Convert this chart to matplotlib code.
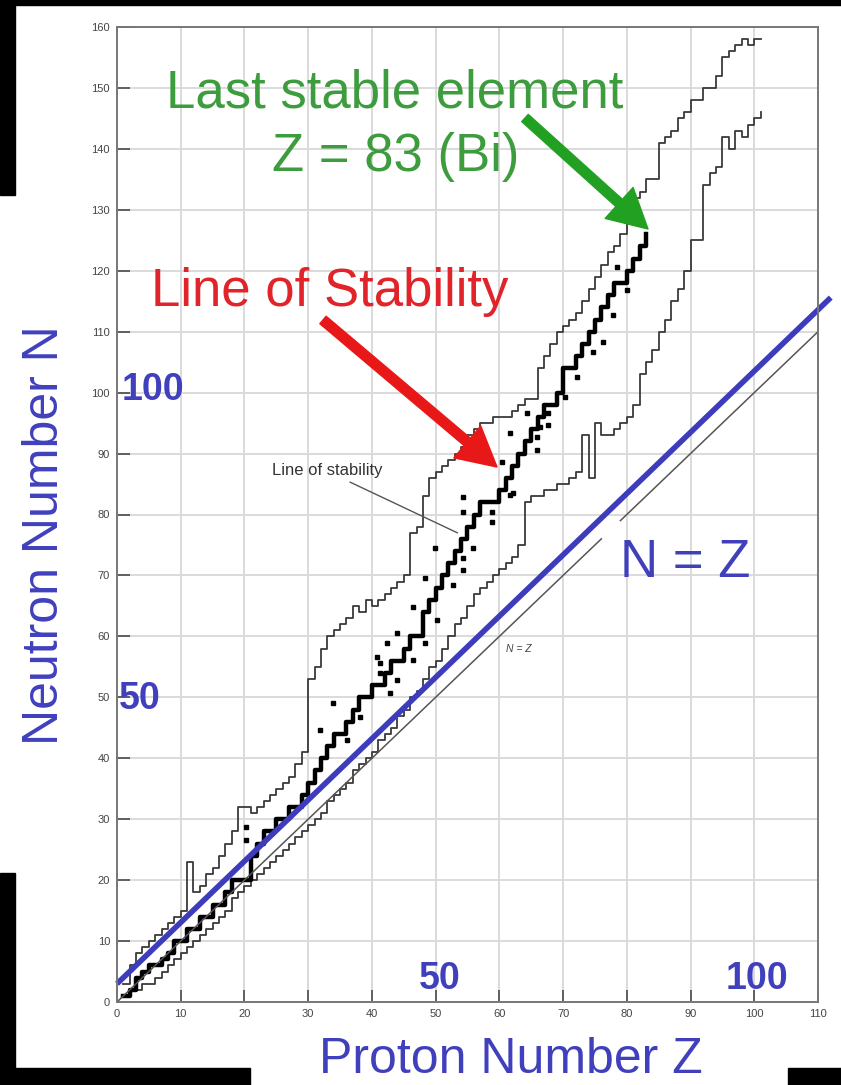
import matplotlib
matplotlib.use("Agg")
import matplotlib.pyplot as plt
from matplotlib.patches import Rectangle

plt.rcParams['font.family'] = ['Liberation Sans', 'DejaVu Sans']

W, H = 841, 1085

# neutron-rich edge of known nuclides (Z = 1..101)
upper_z = list(range(1, 102))
upper_n = [3, 6, 8, 9, 10, 11, 12, 13, 14, 15,
           23, 18, 19, 21, 22, 24, 26, 28, 32, 32,
           31, 32, 33, 34, 35, 36, 37, 39, 41, 53,
           55, 58, 60, 61, 62, 63, 65, 64, 66, 65,
           66, 67, 68, 69, 70, 77, 78, 83, 86, 87,
           88, 89, 90, 91, 93, 94, 95, 95, 96, 96,
           96, 97, 98, 99, 99, 104, 106, 108, 110, 111,
           112, 113, 115, 117, 119, 121, 123, 124, 126, 128,
           132, 133, 135, 135, 141, 142, 143, 145, 146, 148,
           148, 150, 150, 152, 155, 156, 157, 158, 157, 158, 158]

# proton-rich edge of known nuclides (Z = 2..101)
lower_z = list(range(2, 102))
lower_n = [2, 2, 3, 3, 4, 5, 6, 7, 8,
           9, 10, 11, 12, 13, 14, 15, 17, 18, 19,
           20, 21, 22, 23, 24, 25, 26, 27, 28, 29,
           30, 31, 33, 34, 35, 36, 38, 39, 40, 41,
           43, 44, 45, 47, 48, 50, 51, 53, 55, 56,
           58, 60, 62, 63, 65, 67, 68, 69, 70, 71,
           72, 73, 75, 82, 83, 83, 84, 84, 85, 85,
           86, 87, 93, 86, 95, 93, 93, 94, 95, 96,
           98, 103, 105, 107, 110, 112, 115, 117, 120, 125,
           125, 134, 136, 137, 142, 140, 143, 142, 144, 145, 146]

# stable nuclides, main valley (Z = 1..83)
stable_z = list(range(1, 84))
stable_n = [1, 2, 4, 5, 6, 6, 7, 8, 10, 10,
            12, 12, 14, 14, 16, 16, 18, 20, 20, 20,
            24, 26, 28, 28, 30, 30, 32, 32, 34, 36,
            38, 40, 42, 44, 44, 46, 48, 50, 50, 52,
            52, 54, 56, 56, 58, 60, 60, 64, 66, 68,
            70, 72, 74, 76, 78, 80, 82, 82, 82, 84,
            86, 88, 90, 92, 94, 96, 98, 98, 100, 104,
            104, 106, 108, 110, 112, 114, 116, 118, 118, 120,
            122, 124, 126]

# isolated stable isotopes off the main valley
dot_z = [54.3, 54.3, 58.8, 58.8, 49.9, 54.3, 54.3, 55.9, 48.3, 52.8,
         46.5, 50.2, 43.9, 48.3, 42.3, 40.8, 46.5, 61.7, 77.8, 76.3,
         74.7, 72.2, 70.3, 67.6, 67.6, 65.9, 65.9, 64.3, 61.7, 66.4,
         60.4, 62.1, 33.9, 38.1, 36.1, 31.9, 42.8, 41.3, 43.9, 20.2,
         20.2, 78.4, 80.0, 41.3]
dot_n = [82.9, 80.4, 80.4, 78.8, 74.5, 72.9, 70.9, 74.5, 69.6, 68.4,
         64.8, 62.7, 60.5, 58.9, 58.9, 56.6, 56.1, 83.2, 112.7, 108.3,
         106.7, 102.6, 99.3, 96.6, 94.7, 92.7, 90.6, 96.6, 93.4, 94.4,
         88.6, 83.5, 49.0, 46.8, 43.0, 44.6, 50.7, 55.6, 52.8, 28.7,
         26.6, 120.6, 116.8, 54.0]

# N = Z reference line (with its gap near the label)
nz_a = [0, 76]
nz_b = [79, 110]
# hand-drawn blue N = Z line
blue_z = [0, 112]
blue_n = [3, 115.6]

blue = '#4040bd'


def fx(px):
    return px / W


def fy(py):
    return 1 - py / H


fig = plt.figure(figsize=(W / 100, H / 100), dpi=100)
ax = fig.add_axes([fx(117), fy(1002), (818 - 117) / W, (1002 - 27) / H])

ax.set_xlim(0, 110)
ax.set_ylim(0, 160)
ax.set_xticks(range(0, 111, 10))
ax.set_yticks(range(0, 161, 10))
ax.grid(True, color='#dadada', lw=1.4)
ax.set_axisbelow(True)
ax.tick_params(direction='in', length=9, width=1.3, color='#555555',
               labelsize=8, labelcolor='#444444', pad=5)
for s in ax.spines.values():
    s.set_color('#777777')
    s.set_linewidth(1.4)

ax.step(upper_z, upper_n, where='post', color='#3a3a3a', lw=1.3)
ax.step(lower_z, lower_n, where='post', color='#3a3a3a', lw=1.3)
ax.step(stable_z, stable_n, where='post', color='black', lw=3.2)
ax.plot(dot_z, dot_n, 's', color='black', ms=3)

ax.plot(nz_a, nz_a, color='#555555', lw=1.1)
ax.plot(nz_b, nz_b, color='#555555', lw=1.1)
ax.plot(blue_z, blue_n, color='#3c3cbc', lw=4, solid_capstyle='butt', clip_on=False)

ax.text(61, 57.5, 'N = Z', fontsize=7.5, style='italic', color='#444444')
ax.text(33, 87.3, 'Line of stability', fontsize=12, color='#333333',
        ha='center', va='center')
ax.plot([36.6, 53.4], [85.3, 77.0], color='#555555', lw=1)

# big annotation texts
fig.text(fx(395), fy(108), 'Last stable element', color='#3d9c3d',
         fontsize=38, ha='center', va='baseline')
fig.text(fx(396), fy(171), 'Z = 83 (Bi)', color='#3d9c3d',
         fontsize=38, ha='center', va='baseline')
fig.text(fx(330), fy(306), 'Line of Stability', color='#e0242a',
         fontsize=38, ha='center', va='baseline')
fig.text(fx(685), fy(577), 'N = Z', color=blue,
         fontsize=38, ha='center', va='baseline')

arrow_style = 'simple,head_length=1.4,head_width=1.5,tail_width=0.35'
ax.annotate('', xy=(fx(648), fy(229)), xytext=(fx(525), fy(118)),
            xycoords='figure fraction', textcoords='figure fraction',
            annotation_clip=False,
            arrowprops=dict(arrowstyle=arrow_style, color='#22a022',
                            mutation_scale=20, shrinkA=0, shrinkB=0))
ax.annotate('', xy=(fx(497), fy(467)), xytext=(fx(323), fy(320)),
            xycoords='figure fraction', textcoords='figure fraction',
            annotation_clip=False,
            arrowprops=dict(arrowstyle=arrow_style, color='#e81818',
                            mutation_scale=20, shrinkA=0, shrinkB=0))

# axis titles and blue markers
fig.text(fx(45), fy(535), 'Neutron Number N', color=blue, fontsize=36,
         rotation=90, ha='center', va='center')
fig.text(fx(511), fy(1073), 'Proton Number Z', color=blue, fontsize=36,
         ha='center', va='baseline')
fig.text(fx(122), fy(400), '100', color=blue, fontsize=27, fontweight='bold',
         ha='left', va='baseline')
fig.text(fx(119), fy(709), '50', color=blue, fontsize=27, fontweight='bold',
         ha='left', va='baseline')
fig.text(fx(440), fy(989), '50', color=blue, fontsize=27, fontweight='bold',
         ha='center', va='baseline')
fig.text(fx(757), fy(989), '100', color=blue, fontsize=27, fontweight='bold',
         ha='center', va='baseline')

# black borders of the scanned picture
for x0, y0, x1, y1 in [(0, 0, 841, 5), (0, 0, 15, 195), (0, 873, 15, 1085),
                       (0, 1068, 250, 1085), (788, 1068, 841, 1085)]:
    fig.patches.append(Rectangle((fx(x0), fy(y1)), (x1 - x0) / W, (y1 - y0) / H,
                                 transform=fig.transFigure, color='black', zorder=10))

fig.savefig('out.png', dpi=100)
